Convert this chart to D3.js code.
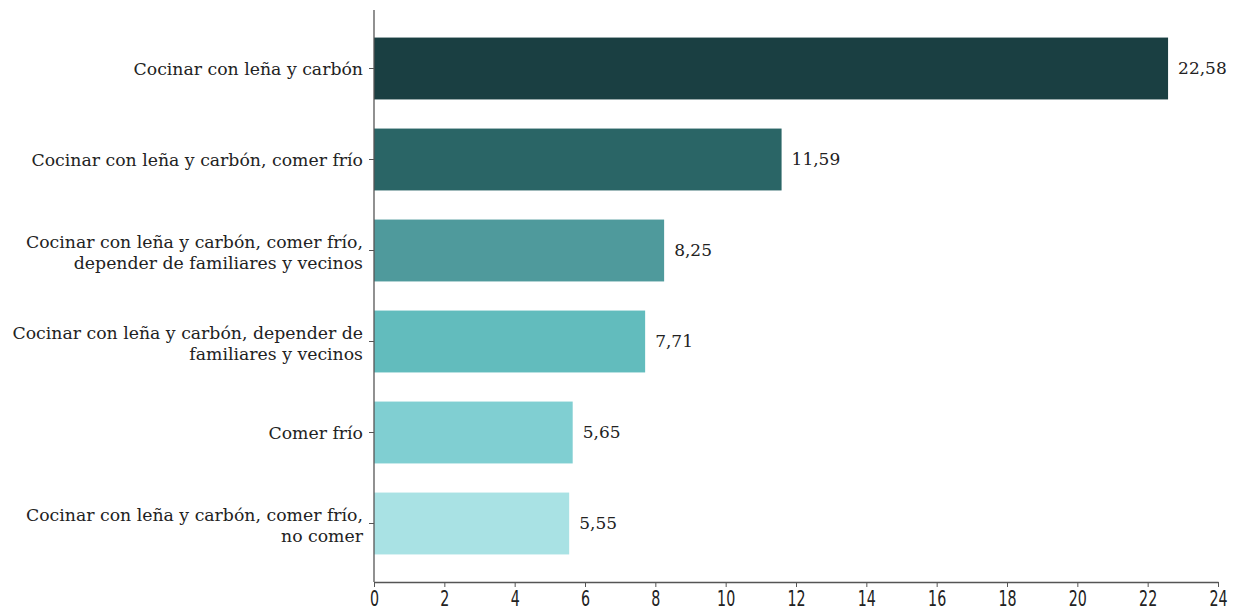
<!DOCTYPE html>
<html><head><meta charset="utf-8">
<script src="https://cdn.jsdelivr.net/npm/d3@7"></script>
<style>body{margin:0;background:#fff;} svg{display:block;}</style>
</head><body>
<script>
const categories = [
  ["Cocinar con leña y carbón"],
  ["Cocinar con leña y carbón, comer frío"],
  ["Cocinar con leña y carbón, comer frío,", "depender de familiares y vecinos"],
  ["Cocinar con leña y carbón, depender de", "familiares y vecinos"],
  ["Comer frío"],
  ["Cocinar con leña y carbón, comer frío,", "no comer"]
];
const values = [22.58, 11.59, 8.25, 7.71, 5.65, 5.55];
const valueLabels = ["22,58", "11,59", "8,25", "7,71", "5,65", "5,55"];
const colors = ["#1a3f42", "#2a6566", "#4f9a9c", "#62bcbd", "#80cfd2", "#a9e2e4"];
const xTicks = [0,2,4,6,8,10,12,14,16,18,20,22,24];

const W = 1239, H = 613;
const svg = d3.select("body").append("svg").attr("width", W).attr("height", H);
const x0 = 374, x1 = 1218, yAxis = 582;
const x = d3.scaleLinear().domain([0,24]).range([x0, x1]);
const idx = d3.range(values.length);
const y = d3.scaleBand().domain(idx).range([23, 569]).paddingInner(0.32).paddingOuter(0.16);

const serif = "'DejaVu Serif', 'Liberation Serif', serif";

svg.selectAll("rect.bar").data(idx).join("rect")
  .attr("class","bar")
  .attr("x", x(0)).attr("y", i => y(i))
  .attr("width", i => x(values[i]) - x(0)).attr("height", y.bandwidth())
  .attr("fill", i => colors[i]);

svg.selectAll("text.val").data(idx).join("text")
  .attr("class","val")
  .attr("x", i => x(values[i]) + 10).attr("y", i => y(i) + y.bandwidth()/2)
  .attr("dy","0.35em").attr("font-family", serif).attr("font-size", 17).attr("fill","#222")
  .text(i => valueLabels[i]);

// y axis
svg.append("line").attr("x1", x0).attr("x2", x0).attr("y1", 10).attr("y2", yAxis)
  .attr("stroke","#555").attr("stroke-width",1.3);
const lab = svg.selectAll("g.lab").data(idx).join("g").attr("class","lab")
  .attr("transform", i => `translate(${x0},${y(i) + y.bandwidth()/2})`);
lab.append("line").attr("x1",-5).attr("x2",0).attr("stroke","#555");
lab.append("text").attr("text-anchor","end").attr("font-family", serif).attr("font-size",17.3).attr("fill","#222")
  .each(function(i){
    const lines = categories[i];
    const t = d3.select(this);
    const n = lines.length;
    lines.forEach((l,k) => {
      t.append("tspan").attr("x",-11).attr("y", (k - (n-1)/2) * 21 + (n>1?2:0)).attr("dy","0.35em").text(l);
    });
  });

// x axis
const xa = svg.append("g").attr("transform", `translate(0,${yAxis})`)
  .call(d3.axisBottom(x).tickValues(xTicks).tickSize(5).tickSizeOuter(0).tickFormat(d3.format("d")));
xa.select(".domain").attr("stroke","#555").attr("stroke-width",1.3);
xa.selectAll(".tick line").attr("stroke","#555");
xa.selectAll("text").attr("font-family","'DejaVu Sans Condensed', sans-serif")
  .attr("font-size",22).attr("fill","#222").attr("dy","0.72em")
  .attr("transform","scale(0.72,1)");
</script>
</body></html>
